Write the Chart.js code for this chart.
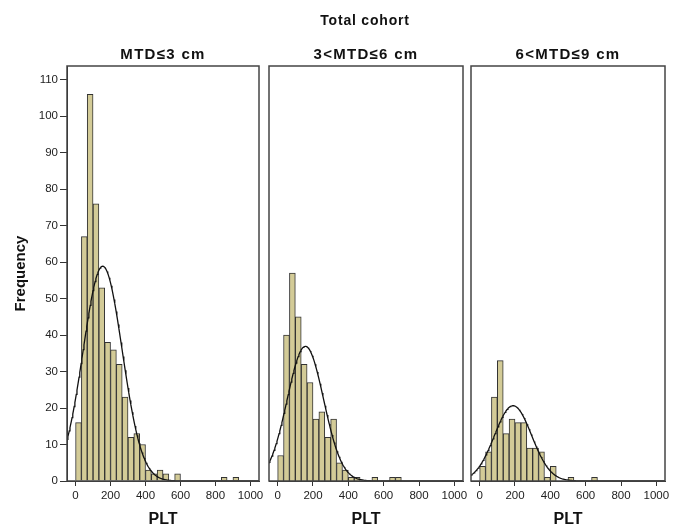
<!DOCTYPE html>
<html>
<head>
<meta charset="utf-8">
<script src="https://cdn.jsdelivr.net/npm/chart.js@4"></script>
<style>
    body { margin: 0; background: #fff; }
    #wrap { position: relative; width: 680px; height: 529px; overflow: hidden; font-family: "Liberation Sans", Arial, sans-serif; }
    #wrap canvas { position: absolute; left: 0; top: 0; }
    .label { position: absolute; transform: translate(-50%, -50%); font-weight: bold; color: #111; white-space: nowrap; }
    .main-title { font-size: 14px; letter-spacing: 0.8px; }
    .panel-title { font-size: 15px; letter-spacing: 1.3px; }
</style>
</head>
<body>
<div id="wrap">
    <canvas id="panel-1" width="680" height="529"></canvas>
    <canvas id="panel-2" width="680" height="529"></canvas>
    <canvas id="panel-3" width="680" height="529"></canvas>
    <div class="label main-title" style="left:365px; top:20px;">Total cohort</div>
    <div class="label panel-title" style="left:163px; top:53px;">MTD≤3 cm</div>
    <div class="label panel-title" style="left:366px; top:53px;">3&lt;MTD≤6 cm</div>
    <div class="label panel-title" style="left:568px; top:53px;">6&lt;MTD≤9 cm</div>
</div>
<script>
// PLT histogram bins start at 0, each bin is 100/3 wide
const BIN_WIDTH = 100 / 3;

// frequency per bin, one array per tumour-size group
const countsSmall = [16, 67, 106, 76, 53, 38, 36, 32, 23, 12, 13, 10, 3, 2, 3, 2, 0, 2, 0, 0, 0, 0, 0, 0, 0, 1, 0, 1];
const countsMedium = [7, 40, 57, 45, 32, 27, 17, 19, 12, 17, 5, 3, 1, 1, 0, 0, 1, 0, 0, 1, 1];
const countsLarge = [4, 8, 23, 33, 13, 17, 16, 16, 9, 9, 8, 1, 4, 0, 0, 1, 0, 0, 0, 1];

// fitted normal curve parameters (mean, SD) per group
const curveMean = [155, 157, 189];
const curveSD = [112, 103, 105];

const xTicks = [0, 200, 400, 600, 800, 1000];
const yTicks = [0, 10, 20, 30, 40, 50, 60, 70, 80, 90, 100, 110];

const FONT = '"Liberation Sans", Arial, sans-serif';
const BAR_FILL = '#d3cb97';
const INK = '#222';

// outline around each plot area
const framePlugin = {
    id: 'frame',
    afterDatasetsDraw(chart) {
        const a = chart.chartArea;
        const ctx = chart.ctx;
        ctx.save();
        ctx.strokeStyle = '#444';
        ctx.lineWidth = 1.5;
        ctx.strokeRect(a.left, a.top, a.right - a.left, a.bottom - a.top);
        ctx.restore();
    }
};

function normalCurve(counts, mean, sd) {
    const n = counts.reduce((s, c) => s + c, 0);
    const peak = n * BIN_WIDTH / (sd * Math.sqrt(2 * Math.PI));
    const pts = [];
    for (let x = -60; x <= 1060; x += 4) {
        const z = (x - mean) / sd;
        pts.push({ x: x, y: peak * Math.exp(-0.5 * z * z) });
    }
    return pts;
}

function makePanel(id, counts, idx, left, right, showY) {
    const bars = counts.map((c, i) => ({ x: (i + 0.5) * BIN_WIDTH, y: c }));

    new Chart(document.getElementById(id), {
        type: 'bar',
        data: {
            datasets: [{
                type: 'line',
                data: normalCurve(counts, curveMean[idx], curveSD[idx]),
                borderColor: '#111',
                borderWidth: 1.3,
                pointRadius: 0,
                tension: 0,
                order: 0
            }, {
                type: 'bar',
                data: bars,
                backgroundColor: BAR_FILL,
                borderColor: '#333',
                borderWidth: 1,
                barPercentage: 1,
                categoryPercentage: 1,
                order: 1
            }]
        },
        options: {
            responsive: false,
            animation: false,
            events: [],
            layout: { padding: { left: left, right: 680 - right, top: 66, bottom: 0 } },
            plugins: { legend: { display: false }, tooltip: { enabled: false } },
            scales: {
                x: {
                    type: 'linear',
                    min: -49,
                    max: 1049,
                    offset: false,
                    afterFit: s => { s.height = 48; },
                    afterBuildTicks: s => { s.ticks = xTicks.map(v => ({ value: v })); },
                    grid: { offset: false, drawOnChartArea: false, tickLength: 5, color: '#333' },
                    border: { color: '#333' },
                    ticks: {
                        padding: 3,
                        color: INK,
                        font: { family: FONT, size: 11.5 },
                        callback: v => String(v)
                    },
                    title: {
                        display: true,
                        text: 'PLT',
                        color: '#111',
                        padding: { top: 0, bottom: 0 },
                        font: { family: FONT, size: 16, weight: 'bold' }
                    }
                },
                y: {
                    min: 0,
                    max: 113.8,
                    display: true,
                    afterFit: s => { s.width = showY ? 67 : 0; },
                    afterBuildTicks: s => { s.ticks = showY ? yTicks.map(v => ({ value: v })) : []; },
                    grid: { display: showY, drawOnChartArea: false, tickLength: 7, color: '#333' },
                    border: { display: showY, color: '#222' },
                    ticks: { display: showY, padding: 2, color: INK, font: { family: FONT, size: 11.5 } },
                    title: {
                        display: showY,
                        text: 'Frequency',
                        color: '#111',
                        padding: { top: 12, bottom: 0 },
                        font: { family: FONT, size: 15, weight: 'bold' }
                    }
                }
            }
        },
        plugins: [framePlugin]
    });
}

makePanel('panel-1', countsSmall, 0, 0, 259, true);
makePanel('panel-2', countsMedium, 1, 269, 463, false);
makePanel('panel-3', countsLarge, 2, 471, 665, false);
</script>
</body>
</html>
